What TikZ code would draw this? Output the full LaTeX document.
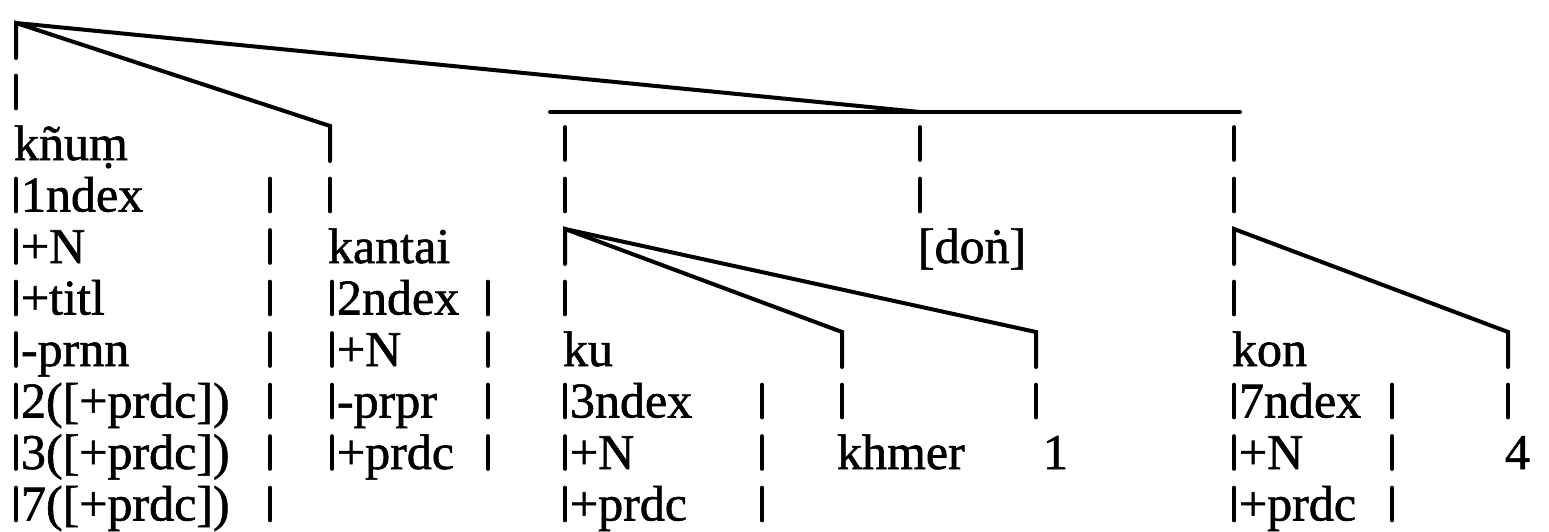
\documentclass[tikz,border=0pt]{standalone}
\usepackage{fontspec}
\setmainfont{Liberation Serif}
\newfontfamily\treefont[BoldFont=Liberation Serif,BoldFeatures={FakeBold=1.2}]{Liberation Serif}
\begin{document}
\begin{tikzpicture}[x=0.5pt,y=-0.5pt,
  tl/.style={line width=2pt,line cap=round,line join=miter},
  vbar/.style={line width=1.8pt,line cap=round},
  txt/.style={anchor=base west,inner sep=0pt,outer sep=0pt,font=\treefont\bfseries\fontsize{25pt}{30pt}\selectfont}]
\useasboundingbox (0,0) rectangle (1549,531);
\newcommand{\vb}[2]{\draw[vbar] (#1,{160+51.5*(#2)-33}) -- (#1,{160+51.5*(#2)});}
% corner coordinates
\coordinate (root) at (16,23);
\coordinate (rootb) at (16,58);
\coordinate (kc) at (330,126);
\coordinate (kb) at (330,161);
\coordinate (hj) at (920,112);
\coordinate (hl) at (550,112);
\coordinate (hr) at (1240,112);
\coordinate (kuc) at (565,229);
\coordinate (kub) at (565,264);
\coordinate (khc) at (842,332);
\coordinate (khb) at (842,367);
\coordinate (onec) at (1036,332);
\coordinate (oneb) at (1036,367);
\coordinate (konc) at (1234,229);
\coordinate (konb) at (1234,264);
\coordinate (fc) at (1508,332);
\coordinate (fb) at (1508,367);
% tree lines
\draw[tl] (rootb) -- (root) -- (kc) -- (kb);
\draw[tl] (root) -- (hj);
\draw[tl] (hl) -- (hr);
\draw[tl] (kub) -- (kuc) -- (khc) -- (khb);
\draw[tl] (kuc) -- (onec) -- (oneb);
\draw[tl] (konb) -- (konc) -- (fc) -- (fb);
% column bars
\foreach \x in {16} {\vb{\x}{-1}}
\foreach \x in {565,920,1234} {\vb{\x}{0}}
\foreach \x in {16,270,330,565,920,1234} {\vb{\x}{1}}
\foreach \x in {16,270} {\vb{\x}{2}}
\foreach \x in {16,270,332,488,565,1234} {\vb{\x}{3}}
\foreach \x in {16,270,332,488} {\vb{\x}{4}}
\foreach \x in {16,270,332,488,565,762,842,1036,1234,1392,1508} {\vb{\x}{5}}
\foreach \x in {16,270,332,488,565,762,1234,1392} {\vb{\x}{6}}
\foreach \x in {16,270,565,762,1234,1392} {\vb{\x}{7}}
% texts
\node[txt] (knum) at (14,160) {kñuṃ};
\node[txt] (a1) at (21,211.5) {1ndex};
\node[txt] (a2) at (21,263) {+N};
\node[txt] (a3) at (21,314.5) {+titl};
\node[txt] (a4) at (21,366) {-prnn};
\node[txt] (a5) at (21,417.5) {2([+prdc])};
\node[txt] (a6) at (21,469) {3([+prdc])};
\node[txt] (a7) at (21,520.5) {7([+prdc])};
\node[txt] (kantai) at (328,263) {kantai};
\node[txt] (b3) at (337,314.5) {2ndex};
\node[txt] (b4) at (337,366) {+N};
\node[txt] (b5) at (337,417.5) {-prpr};
\node[txt] (b6) at (337,469) {+prdc};
\node[txt] (don) at (918,263) {[doṅ]};
\node[txt] (ku) at (563,366) {ku};
\node[txt] (c5) at (570,417.5) {3ndex};
\node[txt] (c6) at (570,469) {+N};
\node[txt] (c7) at (570,520.5) {+prdc};
\node[txt] (khmer) at (837,469) {khmer};
\node[txt] (one) at (1043,469) {1};
\node[txt] (kon) at (1232,366) {kon};
\node[txt] (d5) at (1239,417.5) {7ndex};
\node[txt] (d6) at (1239,469) {+N};
\node[txt] (d7) at (1239,520.5) {+prdc};
\node[txt] (four) at (1505,469) {4};
\end{tikzpicture}
\end{document}
